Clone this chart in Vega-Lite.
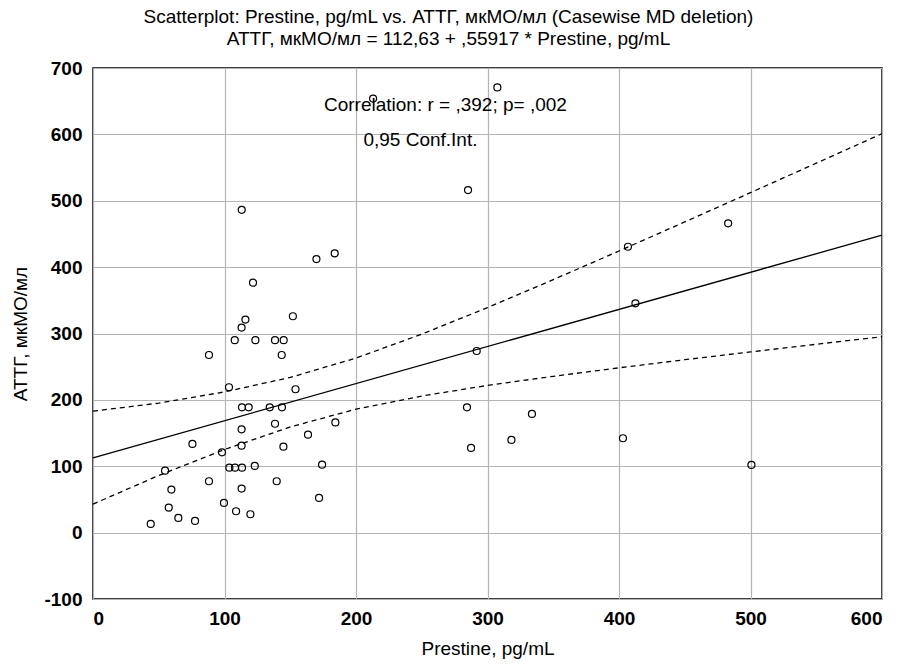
{
  "$schema": "https://vega.github.io/schema/vega-lite/v6.json",
  "width": 789,
  "height": 531,
  "autosize": {"type": "none"},
  "padding": {"left": 93, "top": 68, "right": 15, "bottom": 65},
  "background": "white",
  "title": {
    "text": ["Scatterplot: Prestine, pg/mL vs. АТТГ, мкМО/мл (Casewise MD deletion)", "АТТГ, мкМО/мл = 112,63 + ,55917 * Prestine, pg/mL"],
    "anchor": "middle",
    "dx": -39,
    "font": "Liberation Sans",
    "fontSize": 19,
    "fontWeight": "normal",
    "lineHeight": 22,
    "offset": 10,
    "color": "black"
  },
  "config": {
    "view": {"stroke": "black", "strokeWidth": 1.5},
    "axis": {
      "gridColor": "#b4b4b4",
      "gridWidth": 1.2,
      "domain": false,
      "tickColor": "black",
      "labelFont": "Liberation Sans",
      "labelFontWeight": "bold",
      "labelFontSize": 19,
      "labelColor": "black",
      "titleFont": "Liberation Sans",
      "titleFontWeight": "normal",
      "titleFontSize": 19,
      "titleColor": "black"
    }
  },
  "datasets": {
    "pts": [
      {"x": 121.7, "y": 376.5}, {"x": 152, "y": 326}, {"x": 115.9, "y": 321}, {"x": 113, "y": 309},
      {"x": 107.8, "y": 290}, {"x": 123.5, "y": 290}, {"x": 138.4, "y": 290}, {"x": 145, "y": 290},
      {"x": 88.2, "y": 267.6}, {"x": 143.5, "y": 267.6}, {"x": 154, "y": 216}, {"x": 103.4, "y": 219},
      {"x": 113.3, "y": 188.8}, {"x": 118.4, "y": 188.8}, {"x": 134.4, "y": 188.8}, {"x": 143.7, "y": 188.8},
      {"x": 184.3, "y": 166}, {"x": 138.4, "y": 164}, {"x": 113, "y": 155.7}, {"x": 163.5, "y": 147.6},
      {"x": 75.6, "y": 133.6}, {"x": 113, "y": 131}, {"x": 144.8, "y": 129.5}, {"x": 98.1, "y": 121},
      {"x": 54.8, "y": 93.4}, {"x": 103.7, "y": 97.9}, {"x": 108, "y": 97.9}, {"x": 113.3, "y": 97.9},
      {"x": 123, "y": 100.5}, {"x": 174.2, "y": 102.4}, {"x": 88.2, "y": 77.4}, {"x": 139.7, "y": 77.4},
      {"x": 59.6, "y": 64.8}, {"x": 113, "y": 66.3}, {"x": 171.9, "y": 52.3}, {"x": 99.6, "y": 44.7},
      {"x": 57.6, "y": 37.7}, {"x": 108.8, "y": 32.2}, {"x": 119.7, "y": 27.7}, {"x": 64.9, "y": 22.1},
      {"x": 77.6, "y": 17.6}, {"x": 43.9, "y": 13.1},
      {"x": 113.1, "y": 486.4}, {"x": 169.9, "y": 412.2}, {"x": 183.8, "y": 420.8}, {"x": 285.2, "y": 516.1},
      {"x": 213, "y": 654},
      {"x": 307.5, "y": 670.8}, {"x": 291.8, "y": 273.6}, {"x": 284.4, "y": 188.8}, {"x": 333.8, "y": 178.8},
      {"x": 318.2, "y": 139.6}, {"x": 287.5, "y": 127.6},
      {"x": 483, "y": 466}, {"x": 406.8, "y": 430.7}, {"x": 412.5, "y": 345.5}, {"x": 403, "y": 142.2},
      {"x": 500.7, "y": 102}
    ],
    "fit": [
      {"x": 0, "y": 112.63}, {"x": 600, "y": 448.13}
    ],
    "band": [
      {"x": 0, "y": 183, "b": "upper"}, {"x": 50, "y": 195.1, "b": "upper"}, {"x": 100, "y": 212, "b": "upper"},
      {"x": 150, "y": 233.8, "b": "upper"}, {"x": 200, "y": 263, "b": "upper"}, {"x": 250, "y": 299, "b": "upper"},
      {"x": 300, "y": 339, "b": "upper"}, {"x": 350, "y": 381.1, "b": "upper"}, {"x": 400, "y": 424.3, "b": "upper"},
      {"x": 450, "y": 468.1, "b": "upper"}, {"x": 500, "y": 512.2, "b": "upper"}, {"x": 550, "y": 556.6, "b": "upper"},
      {"x": 600, "y": 601.1, "b": "upper"},
      {"x": 0, "y": 43, "b": "lower"}, {"x": 50, "y": 86.1, "b": "lower"}, {"x": 100, "y": 125.2, "b": "lower"},
      {"x": 150, "y": 159.2, "b": "lower"}, {"x": 200, "y": 186, "b": "lower"}, {"x": 250, "y": 205.8, "b": "lower"},
      {"x": 300, "y": 221.8, "b": "lower"}, {"x": 350, "y": 235.5, "b": "lower"}, {"x": 400, "y": 248.3, "b": "lower"},
      {"x": 450, "y": 260.5, "b": "lower"}, {"x": 500, "y": 272.2, "b": "lower"}, {"x": 550, "y": 283.8, "b": "lower"},
      {"x": 600, "y": 295.1, "b": "lower"}
    ],
    "notes": [
      {"x": 268, "y": 644, "t": "Correlation: r = ,392; p= ,002"},
      {"x": 249, "y": 591, "t": "0,95 Conf.Int."}
    ]
  },
  "layer": [
    {
      "data": {"name": "pts"},
      "mark": {"type": "point", "shape": "circle", "filled": false, "color": "black", "size": 49, "strokeWidth": 1.2, "opacity": 1},
      "encoding": {
        "x": {"field": "x", "type": "quantitative", "scale": {"domain": [0, 600], "nice": false, "zero": false},
              "axis": {"values": [0, 100, 200, 300, 400, 500, 600], "title": "Prestine, pg/mL", "titlePadding": 11, "labelPadding": 10, "tickSize": 0}},
        "y": {"field": "y", "type": "quantitative", "scale": {"domain": [-100, 700], "nice": false, "zero": false},
              "axis": {"values": [-100, 0, 100, 200, 300, 400, 500, 600, 700], "title": "АТТГ, мкМО/мл", "titlePadding": 13, "labelPadding": 11, "tickSize": 0,
                       "labelExpr": "datum.value < 0 ? '-' + abs(datum.value) : datum.label"}}
      }
    },
    {
      "data": {"name": "fit"},
      "mark": {"type": "line", "color": "black", "strokeWidth": 1.3},
      "encoding": {
        "x": {"field": "x", "type": "quantitative"},
        "y": {"field": "y", "type": "quantitative"}
      }
    },
    {
      "data": {"name": "band"},
      "mark": {"type": "line", "color": "black", "strokeWidth": 1.3, "strokeDash": [5, 4]},
      "encoding": {
        "x": {"field": "x", "type": "quantitative"},
        "y": {"field": "y", "type": "quantitative"},
        "detail": {"field": "b"}
      }
    },
    {
      "data": {"name": "notes"},
      "mark": {"type": "text", "font": "Liberation Sans", "fontSize": 19, "color": "black", "align": "center", "baseline": "middle"},
      "encoding": {
        "x": {"field": "x", "type": "quantitative"},
        "y": {"field": "y", "type": "quantitative"},
        "text": {"field": "t"}
      }
    }
  ]
}
